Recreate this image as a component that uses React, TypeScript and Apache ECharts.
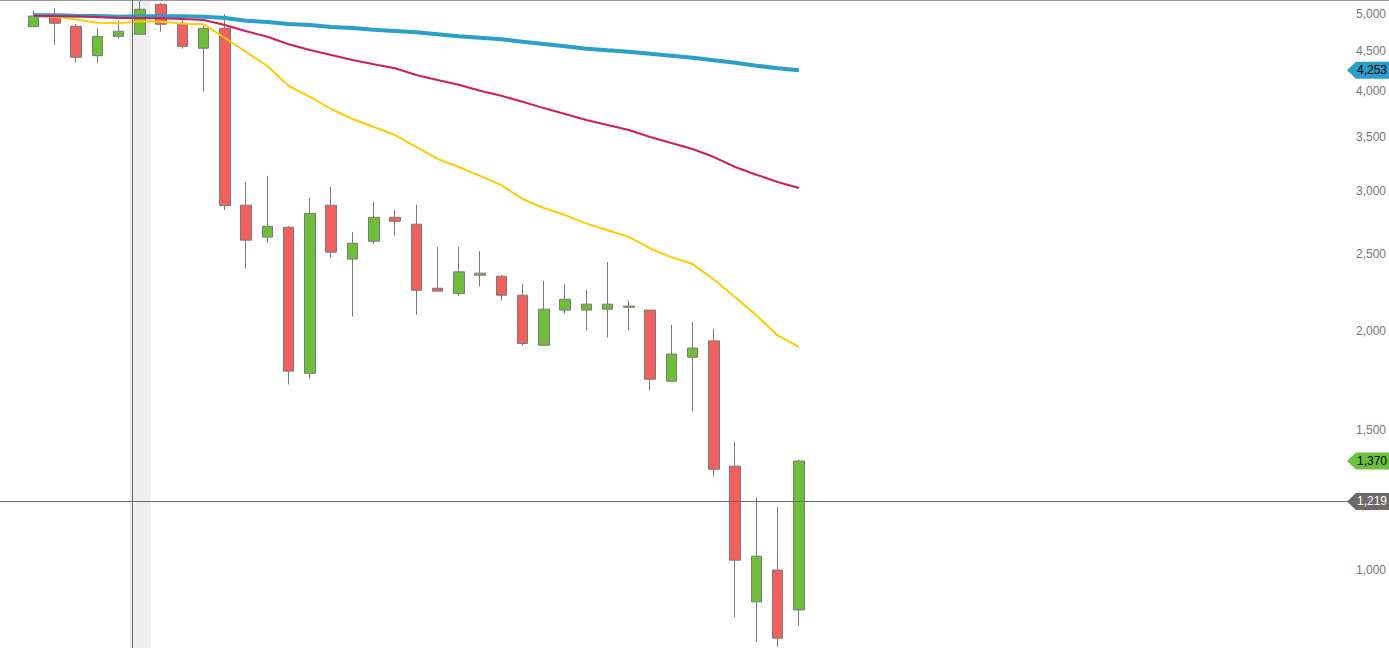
import React, { useEffect, useRef } from "react";
import * as echarts from "echarts";

// ---- data ----
const SLOT_COUNT = 62; // category slots on the x axis (data fills the first 37)
const CANDLE_OPEN = [4825, 4986, 4831, 4436, 4692, 4720, 5148, 4873, 4532, 4802, 2876, 2622, 2698, 1767, 2876, 2460, 2591, 2777, 2722, 2261, 2226, 2348, 2341, 2216, 1917, 2122, 2122, 2128, 2140, 2122, 1727, 1851, 1941, 1350, 911, 999, 890];
const CANDLE_CLOSE = [4976, 4873, 4415, 4692, 4761, 5075, 4859, 4558, 4802, 2873, 2599, 2706, 1778, 2809, 2510, 2576, 2777, 2745, 2248, 2242, 2371, 2362, 2216, 1926, 2128, 2190, 2159, 2159, 2147, 1737, 1868, 1901, 1338, 1028, 1040, 820, 1370];
const CANDLE_LOW = [4820, 4580, 4347, 4340, 4656, 4719, 4755, 4526, 3996, 2837, 2394, 2580, 1710, 1739, 2471, 2082, 2573, 2634, 2094, 2242, 2213, 2272, 2182, 1915, 1917, 2100, 2000, 1960, 2000, 1681, 1727, 1581, 1310, 871, 812, 800, 850];
const CANDLE_HIGH = [5049, 5094, 4859, 4806, 4905, 5211, 5168, 4909, 4835, 5005, 3076, 3131, 2708, 2938, 3032, 2662, 2904, 2837, 2879, 2548, 2548, 2519, 2350, 2289, 2309, 2289, 2250, 2440, 2180, 2122, 2033, 2051, 2010, 1449, 1232, 1200, 1376];

const MA_FAST = [4976, 4966, 4925, 4881, 4873, 4901, 4895, 4868, 4859, 4669, 4484, 4305, 4063, 3938, 3801, 3692, 3608, 3525, 3405, 3289, 3213, 3131, 3049, 2928, 2853, 2795, 2727, 2675, 2624, 2537, 2474, 2425, 2319, 2203, 2090, 1972, 1908];
const MA_MID = [4981, 4976, 4972, 4962, 4948, 4948, 4944, 4934, 4919, 4849, 4761, 4687, 4585, 4510, 4445, 4381, 4326, 4277, 4194, 4134, 4077, 4007, 3950, 3882, 3811, 3746, 3681, 3629, 3576, 3504, 3444, 3385, 3307, 3213, 3142, 3076, 3023];
const MA_SLOW = [4987, 4987, 4981, 4976, 4966, 4972, 4972, 4972, 4966, 4948, 4909, 4891, 4863, 4849, 4820, 4806, 4783, 4765, 4747, 4720, 4692, 4673, 4652, 4620, 4589, 4558, 4526, 4506, 4487, 4462, 4436, 4410, 4377, 4347, 4309, 4277, 4253];

const Y_TICKS = [1000, 1500, 2000, 2500, 3000, 3500, 4000, 4500, 5000];
const Y_MIN = 797;
const Y_MAX = 5213;

const HOVER_INDEX = 5;
const CROSSHAIR_PRICE = 1219;

// ---- styles ----
const UP = "#6cbf36";
const DOWN = "#f25f5c";
const EDGE = "#7a7a7a";
const C_FAST = "#ffcc00";
const C_MID = "#d41c5c";
const C_SLOW = "#2a9fcb";
const FONT = "12px 'Liberation Sans', Arial, sans-serif";

const ln = (v: number) => Math.log(v);
const fmt = (v: number) => Math.round(v).toLocaleString("en-US");

export default function App() {
  const ref = useRef<HTMLDivElement>(null);

  useEffect(() => {
    document.body.style.margin = "0";
    const chart = echarts.init(ref.current!, null, { renderer: "svg" });

    const categories = Array.from({ length: SLOT_COUNT }, (_, i) => String(i + 1));
    const candles = CANDLE_OPEN.map((o, i) => [ln(o), ln(CANDLE_CLOSE[i]), ln(CANDLE_LOW[i]), ln(CANDLE_HIGH[i])]);
    const lastIdx = CANDLE_CLOSE.length - 1;

    const badges = [
      { value: MA_SLOW[lastIdx], fill: C_SLOW, text: "#000" },
      { value: CANDLE_CLOSE[lastIdx], fill: "#6cc13a", text: "#000" },
      { value: CROSSHAIR_PRICE, fill: "#6d6967", text: "#fff" },
    ];

    const lineSeries = (name: string, data: number[], color: string, width: number, z: number) => ({
      name,
      type: "line",
      data: data.map(ln),
      symbol: "none",
      smooth: false,
      z,
      lineStyle: { color, width },
      itemStyle: { color },
    });

    chart.setOption({
      animation: false,
      grid: { left: 23, right: 47, top: 0, bottom: 0 },
      xAxis: {
        type: "category",
        data: categories,
        boundaryGap: true,
        show: false,
      },
      yAxis: {
        type: "value",
        position: "right",
        min: ln(Y_MIN),
        max: ln(Y_MAX),
        axisLine: { show: false },
        axisTick: { show: false },
        splitLine: { show: false },
        axisLabel: {
          customValues: Y_TICKS.map(ln),
          formatter: (v: number) => fmt(Math.exp(v)),
          color: "#777",
          fontSize: 12,
          fontFamily: "'Liberation Sans', Arial, sans-serif",
          align: "right",
          margin: 45,
        },
      },
      series: [
        {
          type: "custom",
          z: 1,
          silent: true,
          data: [[HOVER_INDEX, ln(CROSSHAIR_PRICE)]],
          renderItem: (params: any, api: any) => {
            const cx = api.coord([api.value(0), api.value(1)])[0];
            const w = api.size([1, 0])[0];
            const cs = params.coordSys;
            return {
              type: "rect",
              shape: { x: cx - w / 2, y: cs.y, width: w, height: cs.height },
              style: { fill: "#eeeeee" },
            };
          },
        },
        {
          type: "candlestick",
          z: 2,
          data: candles,
          barWidth: 11,
          itemStyle: {
            color: UP,
            color0: DOWN,
            borderColor: EDGE,
            borderColor0: EDGE,
            borderWidth: 1,
          },
        },
        lineSeries("fast", MA_FAST, C_FAST, 2, 3),
        lineSeries("slow", MA_SLOW, C_SLOW, 4, 4),
        lineSeries("mid", MA_MID, C_MID, 2, 5),
        {
          type: "custom",
          z: 6,
          silent: true,
          data: [[0, ln(CROSSHAIR_PRICE)]],
          renderItem: (params: any, api: any) => {
            const y = Math.round(api.coord([0, api.value(1)])[1]) + 0.5;
            return {
              type: "line",
              shape: { x1: 0, y1: y, x2: 1348, y2: y },
              style: { stroke: "#6d6967", lineWidth: 1 },
            };
          },
        },
        {
          type: "custom",
          z: 7,
          silent: true,
          data: badges.map((b, i) => [0, ln(b.value), i]),
          renderItem: (params: any, api: any) => {
            const b = badges[api.value(2)];
            const y = api.coord([0, api.value(1)])[1];
            const h = 17;
            const tip = 1347;
            const bx = 1356;
            const r = 1389;
            return {
              type: "group",
              children: [
                {
                  type: "polygon",
                  shape: { points: [[tip, y], [bx, y - h / 2], [r, y - h / 2], [r, y + h / 2], [bx, y + h / 2]] },
                  style: { fill: b.fill },
                },
                {
                  type: "text",
                  x: 1387,
                  y: y,
                  style: { text: fmt(b.value), align: "right", verticalAlign: "middle", fill: b.text, font: FONT },
                },
              ],
            };
          },
        },
      ],
      graphic: [
        { type: "line", shape: { x1: 0, y1: 0.5, x2: 1389, y2: 0.5 }, style: { stroke: "#999", lineWidth: 1 }, z: 100 },
        { type: "line", shape: { x1: 132.5, y1: 0, x2: 132.5, y2: 648 }, style: { stroke: "#6d6967", lineWidth: 1 }, z: 100 },
      ],
    });

    return () => chart.dispose();
  }, []);

  return <div ref={ref} style={{ position: "absolute", left: 0, top: 0, width: 1389, height: 648 }} />;
}
